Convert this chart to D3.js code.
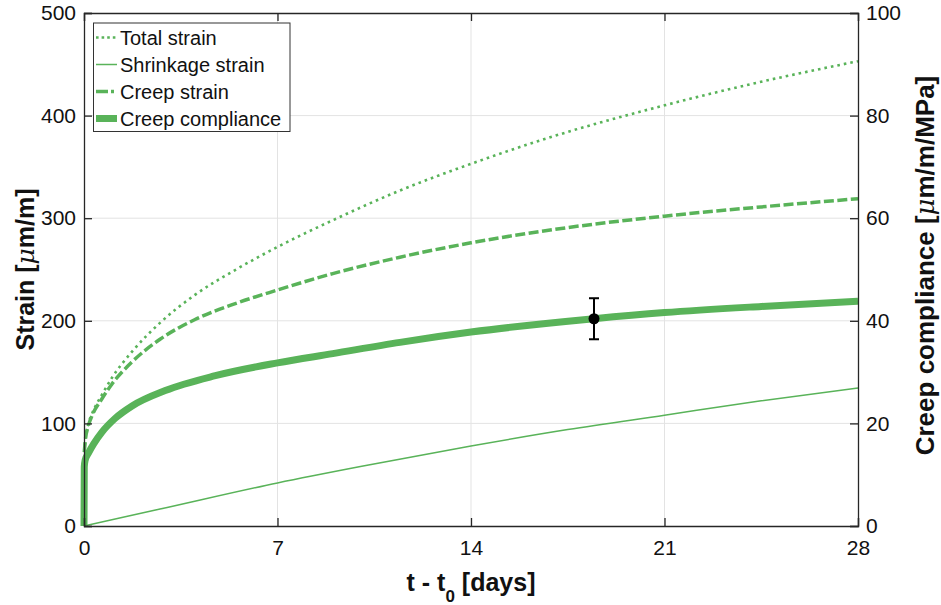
<!DOCTYPE html>
<html>
<head>
<meta charset="utf-8">
<script src="https://cdn.jsdelivr.net/npm/d3@7"></script>
<style>
  html, body { margin: 0; padding: 0; background: #fff; }
  svg { display: block; font-family: "Liberation Sans", Arial, Helvetica, sans-serif; }
</style>
</head>
<body>
<svg id="chart" width="941" height="605"></svg>
<script>
// Time since loading, days
const creepDays = [0.01, 0.05, 0.15, 0.3, 0.65, 1.0, 1.74, 2.75, 4, 5.5, 7, 9, 11.43, 14, 17, 21, 24.5, 28];
// Total strain [µm/m]
const totalStrain = [72, 85, 99, 110, 128, 144, 170, 198, 225, 250, 272, 298, 327, 353, 380, 410, 433, 453];
// Creep strain [µm/m]
const creepStrain = [72, 84, 97, 108, 124, 138, 160, 182, 201, 217, 230, 246, 262, 276, 289, 302, 311, 319];

// Shrinkage strain [µm/m]
const shrinkDays = [0, 2.75, 7, 10, 14, 17.5, 21, 24.5, 28];
const shrinkStrain = [0, 16.5, 42, 58, 78, 94, 108, 122, 134.5];

// Creep compliance [µm/m/MPa]
const complianceDays = [0, 0.01, 0.04, 0.17, 0.35, 0.65, 1.13, 1.74, 2.94, 4.75, 7, 9, 11.43, 14, 18.45, 21, 24.5, 28];
const compliance = [0, 11.5, 12.8, 14.3, 16.0, 18.3, 21.0, 23.4, 26.4, 29.3, 31.8, 33.6, 35.8, 37.8, 40.4, 41.6, 42.8, 43.8];

// Measured compliance with its spread
const measuredDay = [18.45];
const measuredCompliance = [40.4];
const measuredSpread = [4];

// Tick values
const xTicks = [0, 7, 14, 21, 28];
const yLeftTicks = [0, 100, 200, 300, 400, 500];
const yRightTicks = [0, 20, 40, 60, 80, 100];

const seriesNames = ["Total strain", "Shrinkage strain", "Creep strain", "Creep compliance"];

const green = "#59b359";
const axisColor = "#262626";
const gridColor = "#e3e3e3";

const margin = { left: 84, right: 83, top: 13, bottom: 79 };
const W = 941, H = 605;
const pw = W - margin.left - margin.right;
const ph = H - margin.top - margin.bottom;

const svg = d3.select("#chart");
const g = svg.append("g").attr("transform", `translate(${margin.left},${margin.top})`);

const x = d3.scaleLinear().domain([0, 28]).range([0, pw]);
const yL = d3.scaleLinear().domain([0, 500]).range([ph, 0]);
const yR = d3.scaleLinear().domain([0, 100]).range([ph, 0]);

// grid
const grid = g.append("g");
grid.selectAll("line.gx").data(xTicks.slice(1, -1)).enter().append("line")
  .attr("x1", d => x(d)).attr("x2", d => x(d)).attr("y1", 0).attr("y2", ph)
  .attr("stroke", gridColor).attr("stroke-width", 1);
grid.selectAll("line.gy").data(yLeftTicks.slice(1, -1)).enter().append("line")
  .attr("x1", 0).attr("x2", pw).attr("y1", d => yL(d)).attr("y2", d => yL(d))
  .attr("stroke", gridColor).attr("stroke-width", 1);

// clip
svg.append("defs").append("clipPath").attr("id", "plotClip")
  .append("rect").attr("x", -4).attr("y", -4).attr("width", pw + 8).attr("height", ph + 4);

const plot = g.append("g").attr("clip-path", "url(#plotClip)");

const lineL = d3.line().x(d => x(d[0])).y(d => yL(d[1])).curve(d3.curveMonotoneX);
const lineR = d3.line().x(d => x(d[0])).y(d => yR(d[1])).curve(d3.curveMonotoneX);

const zip = (a, b) => a.map((v, i) => [v, b[i]]);

// creep compliance (right axis)
plot.append("path").datum(zip(complianceDays, compliance))
  .attr("d", lineR).attr("fill", "none").attr("stroke", green)
  .attr("stroke-width", 7);

// shrinkage
plot.append("path").datum(zip(shrinkDays, shrinkStrain))
  .attr("d", lineL).attr("fill", "none").attr("stroke", green)
  .attr("stroke-width", 1.5);

// creep strain
plot.append("path").datum(zip(creepDays, creepStrain))
  .attr("d", lineL).attr("fill", "none").attr("stroke", green)
  .attr("stroke-width", 3.5).attr("stroke-dasharray", "10,3.5");

// total strain
plot.append("path").datum(zip(creepDays, totalStrain))
  .attr("d", lineL).attr("fill", "none").attr("stroke", green)
  .attr("stroke-width", 2.6).attr("stroke-dasharray", "2.6,4");

// measured point with error bar
const eb = g.append("g");
measuredDay.forEach((d, i) => {
  const cx = x(d);
  const lo = yR(measuredCompliance[i] - measuredSpread[i]);
  const hi = yR(measuredCompliance[i] + measuredSpread[i]);
  eb.append("line").attr("x1", cx).attr("x2", cx).attr("y1", lo).attr("y2", hi)
    .attr("stroke", "#000").attr("stroke-width", 2);
  [lo, hi].forEach(yy => eb.append("line").attr("x1", cx - 5).attr("x2", cx + 5)
    .attr("y1", yy).attr("y2", yy).attr("stroke", "#000").attr("stroke-width", 2));
  eb.append("circle").attr("cx", cx).attr("cy", yR(measuredCompliance[i])).attr("r", 5.5)
    .attr("fill", "#000");
});

// axes
const tickFont = 21;
const xAxis = d3.axisBottom(x).tickValues(xTicks).tickSize(-8).tickPadding(14).tickFormat(d3.format("d"));
const xTop = d3.axisTop(x).tickValues(xTicks).tickSize(-8).tickFormat("");
const yAxisL = d3.axisLeft(yL).tickValues(yLeftTicks).tickSize(-8).tickPadding(8).tickFormat(d3.format("d"));
const yAxisR = d3.axisRight(yR).tickValues(yRightTicks).tickSize(-8).tickPadding(8).tickFormat(d3.format("d"));

function style(sel) {
  sel.selectAll("path.domain").attr("stroke", axisColor).attr("stroke-width", 1.3);
  sel.selectAll(".tick line").attr("stroke", axisColor).attr("stroke-width", 1.3);
  sel.selectAll(".tick text").attr("fill", "#111").style("font-size", tickFont + "px");
  sel.attr("font-family", null);
}
g.append("g").attr("transform", `translate(0,${ph})`).call(xAxis).call(style);
g.append("g").call(xTop).call(style);
g.append("g").call(yAxisL).call(style);
g.append("g").attr("transform", `translate(${pw},0)`).call(yAxisR).call(style);

// axis titles
const titleSize = 25;
const yTitleL = svg.append("text")
  .attr("transform", `translate(34,${margin.top + ph / 2}) rotate(-90)`)
  .attr("text-anchor", "middle").attr("font-weight", "bold").attr("font-size", titleSize).attr("fill", "#111");
yTitleL.append("tspan").text("Strain [");
yTitleL.append("tspan").attr("font-style", "italic").attr("font-weight", "normal").attr("font-family", "'DejaVu Serif', serif").text("μ");
yTitleL.append("tspan").text("m/m]");

const yTitleR = svg.append("text")
  .attr("transform", `translate(934,${margin.top + ph / 2 - 4}) rotate(-90)`)
  .attr("text-anchor", "middle").attr("font-weight", "bold").attr("font-size", 26).attr("fill", "#111");
yTitleR.append("tspan").text("Creep compliance [");
yTitleR.append("tspan").attr("font-style", "italic").attr("font-weight", "normal").attr("font-family", "'DejaVu Serif', serif").text("μ");
yTitleR.append("tspan").text("m/m/MPa]");

const xTitle = svg.append("text")
  .attr("x", margin.left + pw / 2).attr("y", 591)
  .attr("text-anchor", "middle").attr("font-weight", "bold").attr("font-size", titleSize).attr("fill", "#111");
xTitle.append("tspan").text("t - t");
xTitle.append("tspan").attr("dy", 11).attr("font-size", 17).text("0");
xTitle.append("tspan").attr("dy", -11).text(" [days]");

// legend
const lg = svg.append("g").attr("transform", "translate(93.5,23)");
lg.append("rect").attr("width", 196.5).attr("height", 108.5)
  .attr("fill", "#fff").attr("stroke", "#333").attr("stroke-width", 1);
const legendStyles = [
  { w: 2.6, dash: "2.6,3" },
  { w: 1.5, dash: null },
  { w: 3.5, dash: "12,3,3,10" },
  { w: 7, dash: null }
];
seriesNames.forEach((name, i) => {
  const cy = 14.5 + i * 27;
  const s = legendStyles[i];
  lg.append("line").attr("x1", 2.5).attr("x2", 23.5).attr("y1", cy).attr("y2", cy)
    .attr("stroke", green).attr("stroke-width", s.w)
    .attr("stroke-dasharray", s.dash);
  lg.append("text").attr("x", 26.5).attr("y", cy + 7).attr("font-size", 20).attr("fill", "#111").text(name);
});
</script>
</body>
</html>
